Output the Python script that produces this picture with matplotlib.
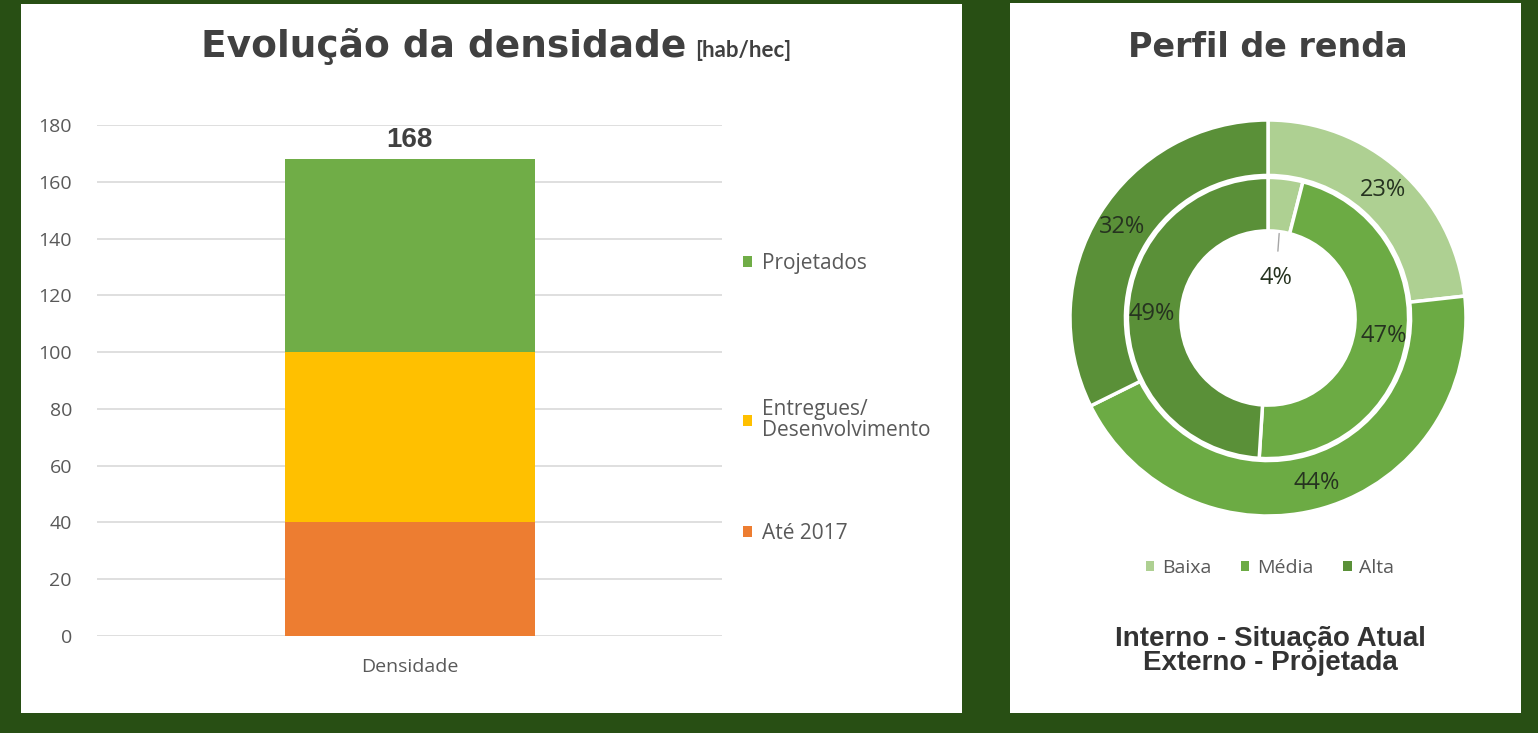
import matplotlib
matplotlib.use("Agg")
import matplotlib.pyplot as plt
from matplotlib.patches import Rectangle, Patch
import numpy as np

# --- data ---
bar_category = ["Densidade"]
stack_labels = ["Até 2017", "Entregues/\nDesenvolvimento", "Projetados"]
stack_values = [40, 60, 68]
stack_colors = ["#ed7d31", "#ffc000", "#70ad47"]
y_ticks = list(range(0, 181, 20))

renda_labels = ["Baixa", "Média", "Alta"]
renda_externo = [23, 44, 32]   # projetada
renda_interno = [4, 47, 49]    # situação atual
renda_colors = ["#aed092", "#6cab44", "#5a9038"]

W, H = 1538, 733
BG = "#284f14"
GRAY = "#595959"
DARK = "#404040"

def fx(px):
    return px / W

def fy(py):
    return 1 - py / H

fig = plt.figure(figsize=(W / 100, H / 100), dpi=100, facecolor=BG)

# white panels
fig.patches.append(Rectangle((fx(21), fy(713)), fx(941), 709 / H,
                             transform=fig.transFigure, facecolor="white",
                             edgecolor="none", zorder=-5))
fig.patches.append(Rectangle((fx(1010), fy(713)), fx(511), 710 / H,
                             transform=fig.transFigure, facecolor="white",
                             edgecolor="none", zorder=-5))

# ---------- left: stacked bar ----------
ax = fig.add_axes([fx(97), fy(636), fx(625), 511 / H])
ax.set_facecolor("none")
bottom = 0
for v, c in zip(stack_values, stack_colors):
    ax.bar(0, v, width=0.4, bottom=bottom, color=c, zorder=3)
    bottom += v
total = sum(stack_values)
ax.text(0, total + 2, str(total), ha="center", va="bottom", fontsize=20,
        fontweight="bold", color=DARK, family="Liberation Sans")

ax.set_xlim(-0.5, 0.5)
ax.set_ylim(0, 180)
ax.set_yticks(y_ticks)
ax.set_xticks([0])
ax.set_xticklabels(bar_category)
for sp in ax.spines.values():
    sp.set_visible(False)
ax.grid(axis="y", color="#d9d9d9", linewidth=1.2, zorder=0)
ax.tick_params(axis="both", length=0, colors=GRAY, labelsize=14)
ax.tick_params(axis="y", pad=18)
ax.tick_params(axis="x", pad=16)
for t in ax.get_xticklabels() + ax.get_yticklabels():
    t.set_family("Open Sans")

# legend entries (Excel-style vertical spread)
leg_pos = [523, 399, 253]
for lab, c, py in zip(stack_labels, stack_colors, leg_pos):
    lg = fig.legend(handles=[Patch(facecolor=c)], labels=[lab],
                    loc="upper left", bbox_to_anchor=(fx(743), fy(py)),
                    frameon=False, handlelength=0.45, handleheight=0.45,
                    handletextpad=0.45, borderpad=0, borderaxespad=0,
                    prop={"family": "Open Sans", "size": 15}, labelcolor=GRAY)
    for t in lg.get_texts():
        t.set_linespacing(1.0)

# title
fig.text(fx(686), fy(57), "Evolução da densidade", ha="right", va="baseline",
         fontsize=27, fontweight="bold", color=DARK, family="DejaVu Sans")
fig.text(fx(695), fy(57), "[hab/hec]", ha="left", va="baseline",
         fontsize=16, fontweight="bold", color=DARK, family="Lato")

# ---------- right: donut ----------
ax2 = fig.add_axes([fx(1070), fy(516), fx(396), 396 / H])
wp = dict(edgecolor="white", linewidth=2.5)
outer, _ = ax2.pie(renda_externo, radius=1.0, startangle=90, counterclock=False,
                   colors=renda_colors, wedgeprops=dict(width=0.28, **wp))
inner, _ = ax2.pie(renda_interno, radius=0.71, startangle=90, counterclock=False,
                   colors=renda_colors, wedgeprops=dict(width=0.27, **wp))
ax2.set_xlim(-1, 1)
ax2.set_ylim(-1, 1)
ax2.set_aspect("equal")

lab_kw = dict(ha="center", va="center", fontsize=17, color="#263320",
              family="Open Sans")
tot_o = sum(renda_externo)
for w, v in zip(outer, renda_externo):
    a = np.deg2rad((w.theta1 + w.theta2) / 2)
    ax2.text(0.87 * np.cos(a), 0.87 * np.sin(a), f"{round(100 * v / tot_o)}%", **lab_kw)
for w, v in zip(inner, renda_interno):
    a = np.deg2rad((w.theta1 + w.theta2) / 2)
    if v < 10:
        ax2.annotate(f"{v}%", xy=(0.45 * np.cos(a), 0.43 * np.sin(a)),
                     xytext=(0.04, 0.2), textcoords="data",
                     arrowprops=dict(arrowstyle="-", color="#a6a6a6", lw=1,
                                     shrinkA=9, shrinkB=0), **lab_kw)
    else:
        ax2.text(0.59 * np.cos(a), 0.59 * np.sin(a), f"{v}%", **lab_kw)

fig.legend(handles=[Patch(facecolor=c) for c in renda_colors], labels=renda_labels,
           loc="center", bbox_to_anchor=(fx(1270), fy(568)), ncol=3,
           frameon=False, handlelength=0.45, handleheight=0.45,
           handletextpad=0.4, columnspacing=1.5,
           prop={"family": "Open Sans", "size": 14}, labelcolor=GRAY)

fig.text(fx(1268), fy(57), "Perfil de renda", ha="center", va="baseline",
         fontsize=24, fontweight="bold", color=DARK, family="DejaVu Sans")
fig.text(fx(1270), fy(651), "Interno - Situação Atual\nExterno - Projetada",
         ha="center", va="center", fontsize=20, fontweight="bold",
         color="#333333", family="Liberation Sans", linespacing=0.95)

fig.savefig("out.png", dpi=100, facecolor=BG)
